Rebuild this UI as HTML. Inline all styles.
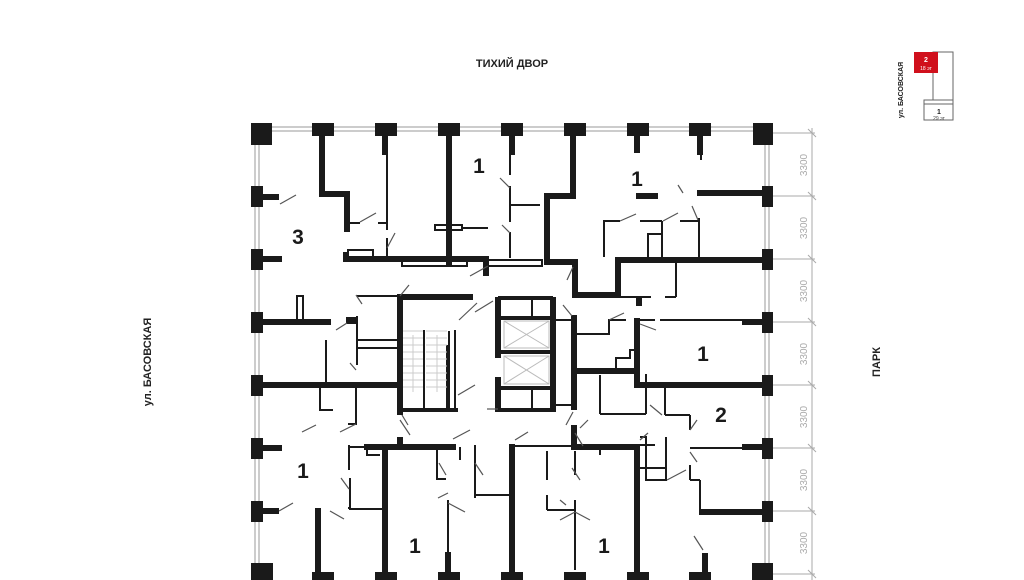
<!DOCTYPE html>
<html><head><meta charset="utf-8"><style>
html,body{margin:0;padding:0;background:#fff;}
svg{display:block;}
text{font-family:"Liberation Sans",sans-serif;}
</style></head><body>
<svg width="1024" height="580" viewBox="0 0 1024 580" xmlns="http://www.w3.org/2000/svg">
<rect width="1024" height="580" fill="#fff"/>
<text x="512" y="67" font-size="11" font-weight="bold" text-anchor="middle" fill="#222">ТИХИЙ ДВОР</text>
<text transform="translate(151,362) rotate(-90)" font-size="11" font-weight="bold" text-anchor="middle" fill="#222">ул. БАСОВСКАЯ</text>
<text transform="translate(880,362) rotate(-90)" font-size="11" font-weight="bold" text-anchor="middle" fill="#222">ПАРК</text>
<rect x="933" y="52" width="20" height="68" fill="none" stroke="#666" stroke-width="1"/>
<rect x="924" y="100" width="29" height="20" fill="#fff" stroke="#666" stroke-width="1"/>
<line x1="924" y1="104" x2="953" y2="104" stroke="#666" stroke-width="1"/>
<rect x="914" y="52" width="24" height="21" fill="#d0101c"/>
<text x="926" y="62" font-size="7" font-weight="bold" fill="#fff" text-anchor="middle">2</text>
<text x="926" y="70" font-size="5" fill="#fff" text-anchor="middle">18 эт</text>
<text x="939" y="114" font-size="7" font-weight="bold" fill="#222" text-anchor="middle">1</text>
<text x="939" y="120" font-size="5" fill="#444" text-anchor="middle">29 эт</text>
<text transform="translate(903,90) rotate(-90)" font-size="7" font-weight="bold" text-anchor="middle" fill="#222">ул. БАСОВСКАЯ</text>
<g stroke="#aaa" stroke-width="1" fill="none">
<line x1="812" y1="128" x2="812" y2="580"/>
<line x1="773" y1="133" x2="815" y2="133"/><line x1="773" y1="196" x2="815" y2="196"/>
<line x1="773" y1="259" x2="815" y2="259"/><line x1="773" y1="322" x2="815" y2="322"/>
<line x1="773" y1="385" x2="815" y2="385"/><line x1="773" y1="448" x2="815" y2="448"/>
<line x1="773" y1="511" x2="815" y2="511"/><line x1="773" y1="574" x2="815" y2="574"/>
<line x1="808" y1="129" x2="816" y2="137"/><line x1="808" y1="192" x2="816" y2="200"/><line x1="808" y1="255" x2="816" y2="263"/><line x1="808" y1="318" x2="816" y2="326"/><line x1="808" y1="381" x2="816" y2="389"/><line x1="808" y1="444" x2="816" y2="452"/><line x1="808" y1="507" x2="816" y2="515"/><line x1="808" y1="570" x2="816" y2="578"/>
</g>
<g font-size="10" fill="#aaa" text-anchor="middle">
<text transform="translate(807,165) rotate(-90)">3300</text>
<text transform="translate(807,228) rotate(-90)">3300</text>
<text transform="translate(807,291) rotate(-90)">3300</text>
<text transform="translate(807,354) rotate(-90)">3300</text>
<text transform="translate(807,417) rotate(-90)">3300</text>
<text transform="translate(807,480) rotate(-90)">3300</text>
<text transform="translate(807,543) rotate(-90)">3300</text>
</g>
<g fill="none" stroke="#999" stroke-width="1">
<rect x="255" y="127" width="514" height="460"/>
<rect x="259" y="131" width="506" height="460"/>
</g>
<g fill="#1a1a1a">
<rect x="251" y="123" width="21" height="22"/>
<rect x="753" y="123" width="20" height="22"/>
<rect x="312" y="123" width="22" height="13"/><rect x="375" y="123" width="22" height="13"/>
<rect x="438" y="123" width="22" height="13"/><rect x="501" y="123" width="22" height="13"/>
<rect x="564" y="123" width="22" height="13"/><rect x="627" y="123" width="22" height="13"/>
<rect x="689" y="123" width="22" height="13"/>
<rect x="251" y="186" width="12" height="21"/><rect x="251" y="249" width="12" height="21"/>
<rect x="251" y="312" width="12" height="21"/><rect x="251" y="375" width="12" height="21"/>
<rect x="251" y="438" width="12" height="21"/><rect x="251" y="501" width="12" height="21"/>
<rect x="251" y="563" width="22" height="20"/>
<rect x="762" y="186" width="11" height="21"/><rect x="762" y="249" width="11" height="21"/>
<rect x="762" y="312" width="11" height="21"/><rect x="762" y="375" width="11" height="21"/>
<rect x="762" y="438" width="11" height="21"/><rect x="762" y="501" width="11" height="21"/>
<rect x="752" y="563" width="21" height="20"/>
<rect x="312" y="572" width="22" height="10"/><rect x="375" y="572" width="22" height="10"/>
<rect x="438" y="572" width="22" height="10"/><rect x="501" y="572" width="22" height="10"/>
<rect x="564" y="572" width="22" height="10"/><rect x="627" y="572" width="22" height="10"/>
<rect x="689" y="572" width="22" height="10"/>
</g>
<g stroke="#1a1a1a" stroke-width="6" fill="none" stroke-linecap="square">
<polyline points="322,136 322,194 347,194 347,229"/>
<line x1="385" y1="136" x2="385" y2="152"/>
<line x1="449" y1="136" x2="449" y2="263"/>
<line x1="512" y1="136" x2="512" y2="152"/>
<line x1="637" y1="136" x2="637" y2="150"/>
<line x1="700" y1="136" x2="700" y2="152"/>
<line x1="262" y1="197" x2="276" y2="197"/>
<line x1="262" y1="259" x2="279" y2="259"/>
<line x1="262" y1="322" x2="328" y2="322"/>
<line x1="262" y1="385" x2="400" y2="385"/>
<line x1="262" y1="448" x2="279" y2="448"/>
<line x1="262" y1="511" x2="276" y2="511"/>
<polyline points="573,136 573,196 547,196 547,262 575,262 575,295 618,295 618,260 762,260"/>
<line x1="700" y1="193" x2="762" y2="193"/>
<line x1="639" y1="196" x2="655" y2="196"/>
<polyline points="346,255 346,259 486,259 486,273"/>
<line x1="400" y1="298" x2="400" y2="412"/>
<line x1="400" y1="297" x2="470" y2="297"/>
<line x1="574" y1="318" x2="574" y2="407"/>
<line x1="575" y1="371" x2="637" y2="371"/>
<line x1="637" y1="321" x2="637" y2="385"/>
<line x1="637" y1="385" x2="762" y2="385"/>
<line x1="745" y1="322" x2="762" y2="322"/>
<line x1="745" y1="447" x2="762" y2="447"/>
<line x1="702" y1="512" x2="762" y2="512"/>
<polyline points="574,428 574,447 637,447 637,575"/>
<line x1="400" y1="440" x2="400" y2="447"/>
<line x1="367" y1="447" x2="453" y2="447"/>
<line x1="385" y1="447" x2="385" y2="575"/>
<line x1="318" y1="511" x2="318" y2="575"/>
<line x1="512" y1="447" x2="512" y2="575"/>
<line x1="448" y1="555" x2="448" y2="575"/>
<line x1="705" y1="556" x2="705" y2="575"/>
<line x1="639" y1="300" x2="639" y2="303"/>
<line x1="498" y1="300" x2="498" y2="355"/>
<line x1="498" y1="380" x2="498" y2="409"/>
<line x1="553" y1="300" x2="553" y2="409"/>
</g>
<g stroke="#1a1a1a" stroke-width="4" fill="none">
<line x1="400" y1="410" x2="458" y2="410"/>
<line x1="498" y1="410" x2="553" y2="410"/>
<line x1="498" y1="298" x2="553" y2="298"/>
<line x1="498" y1="318" x2="553" y2="318"/>
<line x1="498" y1="352" x2="553" y2="352"/>
<line x1="498" y1="388" x2="553" y2="388"/>
<line x1="448" y1="345" x2="448" y2="410"/>
</g>
<g stroke="#1a1a1a" stroke-width="2" fill="none">
<line x1="387" y1="150" x2="387" y2="230"/>
<line x1="510" y1="152" x2="510" y2="175"/>
<line x1="510" y1="186" x2="510" y2="222"/>
<line x1="510" y1="205" x2="540" y2="205"/>
<line x1="510" y1="232" x2="510" y2="258"/>
<line x1="387" y1="238" x2="387" y2="258"/>
<line x1="348" y1="223" x2="360" y2="223"/>
<line x1="378" y1="223" x2="387" y2="223"/>
<rect x="348" y="250" width="25" height="7"/>
<rect x="402" y="260" width="65" height="6"/>
<rect x="486" y="260" width="56" height="6"/>
<rect x="435" y="225" width="27" height="5"/>
<line x1="462" y1="228" x2="488" y2="228"/>
<rect x="297" y="296" width="6" height="25"/>
<line x1="357" y1="296" x2="400" y2="296"/>
<line x1="357" y1="316" x2="357" y2="365"/>
<line x1="357" y1="340" x2="398" y2="340"/>
<line x1="357" y1="348" x2="398" y2="348"/>
<rect x="347" y="318" width="8" height="5" fill="#1a1a1a"/>
<line x1="326" y1="340" x2="326" y2="384"/>
<line x1="356" y1="384" x2="356" y2="425"/>
<polyline points="320,386 320,410 333,410"/>
<line x1="348" y1="424" x2="356" y2="424"/>
<line x1="424" y1="330" x2="424" y2="409"/>
<line x1="449" y1="331" x2="449" y2="409"/>
<line x1="455" y1="330" x2="455" y2="409"/>
<line x1="532" y1="300" x2="532" y2="316"/>
<line x1="532" y1="390" x2="532" y2="408"/>
<line x1="555" y1="320" x2="573" y2="320"/>
<line x1="555" y1="405" x2="573" y2="405"/>
<polyline points="576,334 609,334 609,320 626,320"/>
<line x1="637" y1="320" x2="655" y2="320"/>
<polyline points="576,370 616,370 616,358 630,358 630,350 637,350"/>
<line x1="600" y1="375" x2="600" y2="414"/>
<line x1="600" y1="414" x2="646" y2="414"/>
<line x1="646" y1="414" x2="646" y2="374"/>
<line x1="665" y1="386" x2="665" y2="415"/>
<line x1="665" y1="415" x2="690" y2="415"/>
<line x1="690" y1="415" x2="690" y2="430"/>
<line x1="690" y1="448" x2="745" y2="448"/>
<line x1="690" y1="465" x2="690" y2="480"/>
<line x1="690" y1="480" x2="700" y2="480"/>
<line x1="700" y1="480" x2="700" y2="510"/>
<polyline points="640,437 646,437 646,480 666,480 666,437"/>
<line x1="640" y1="468" x2="666" y2="468"/>
<line x1="660" y1="320" x2="745" y2="320"/>
<polyline points="604,257 604,221 620,221"/>
<line x1="640" y1="221" x2="662" y2="221"/>
<line x1="680" y1="221" x2="698" y2="221"/>
<line x1="662" y1="221" x2="662" y2="258"/>
<polyline points="648,258 648,234 662,234"/>
<line x1="699" y1="218" x2="699" y2="258"/>
<line x1="676" y1="262" x2="676" y2="297"/>
<line x1="620" y1="297" x2="651" y2="297"/>
<line x1="665" y1="297" x2="676" y2="297"/>
<line x1="701" y1="140" x2="701" y2="160"/>
<line x1="349" y1="445" x2="349" y2="470"/>
<polyline points="350,478 350,508 348,508"/>
<polyline points="350,447 367,447 367,455 380,455"/>
<line x1="349" y1="509" x2="383" y2="509"/>
<line x1="460" y1="447" x2="460" y2="460"/>
<polyline points="437,449 437,479 446,479"/>
<line x1="475" y1="445" x2="475" y2="498"/>
<line x1="475" y1="495" x2="510" y2="495"/>
<line x1="448" y1="500" x2="448" y2="555"/>
<line x1="515" y1="446" x2="575" y2="446"/>
<line x1="547" y1="451" x2="547" y2="480"/>
<line x1="575" y1="451" x2="575" y2="475"/>
<line x1="547" y1="495" x2="547" y2="510"/>
<line x1="547" y1="510" x2="575" y2="510"/>
<line x1="575" y1="500" x2="575" y2="570"/>
<line x1="640" y1="445" x2="655" y2="445"/>
<line x1="600" y1="447" x2="600" y2="455"/>
</g>
<g stroke="#bbb" stroke-width="1" fill="none">
<rect x="504" y="321" width="45" height="27"/>
<line x1="504" y1="321" x2="549" y2="348"/><line x1="549" y1="321" x2="504" y2="348"/>
<rect x="504" y="356" width="45" height="28"/>
<line x1="504" y1="356" x2="549" y2="384"/><line x1="549" y1="356" x2="504" y2="384"/>
</g>
<g stroke="#ccc" stroke-width="1">
<line x1="403" y1="331" x2="423" y2="331"/><line x1="403" y1="338" x2="423" y2="338"/><line x1="403" y1="345" x2="423" y2="345"/>
<line x1="403" y1="352" x2="423" y2="352"/><line x1="403" y1="359" x2="423" y2="359"/><line x1="403" y1="366" x2="423" y2="366"/>
<line x1="403" y1="373" x2="423" y2="373"/><line x1="403" y1="380" x2="423" y2="380"/><line x1="403" y1="387" x2="423" y2="387"/>
<line x1="426" y1="331" x2="447" y2="331"/><line x1="426" y1="338" x2="447" y2="338"/><line x1="426" y1="345" x2="447" y2="345"/>
<line x1="426" y1="352" x2="447" y2="352"/><line x1="426" y1="359" x2="447" y2="359"/><line x1="426" y1="366" x2="447" y2="366"/>
<line x1="426" y1="373" x2="447" y2="373"/><line x1="426" y1="380" x2="447" y2="380"/><line x1="426" y1="387" x2="447" y2="387"/>
<line x1="413" y1="335" x2="413" y2="392"/><line x1="437" y1="335" x2="437" y2="392"/>
</g>
<g stroke="#555" stroke-width="1.2">
<line x1="296" y1="195" x2="280" y2="204"/>
<line x1="360" y1="222" x2="376" y2="213"/>
<line x1="387" y1="248" x2="395" y2="233"/>
<line x1="510" y1="188" x2="500" y2="178"/>
<line x1="510" y1="233" x2="502" y2="225"/>
<line x1="470" y1="276" x2="488" y2="266"/>
<line x1="400" y1="296" x2="409" y2="285"/>
<line x1="620" y1="221" x2="636" y2="214"/>
<line x1="663" y1="221" x2="678" y2="213"/>
<line x1="698" y1="220" x2="692" y2="206"/>
<line x1="683" y1="193" x2="678" y2="185"/>
<line x1="573" y1="267" x2="567" y2="280"/>
<line x1="336" y1="330" x2="347" y2="323"/>
<line x1="356" y1="370" x2="350" y2="363"/>
<line x1="356" y1="295" x2="362" y2="304"/>
<line x1="459" y1="320" x2="477" y2="303"/>
<line x1="475" y1="312" x2="493" y2="301"/>
<line x1="458" y1="395" x2="475" y2="385"/>
<line x1="487" y1="409" x2="498" y2="409"/>
<line x1="563" y1="305" x2="572" y2="316"/>
<line x1="566" y1="425" x2="573" y2="412"/>
<line x1="402" y1="415" x2="408" y2="425"/>
<line x1="340" y1="432" x2="356" y2="424"/>
<line x1="609" y1="320" x2="624" y2="313"/>
<line x1="640" y1="324" x2="656" y2="330"/>
<line x1="650" y1="405" x2="662" y2="415"/>
<line x1="690" y1="430" x2="697" y2="420"/>
<line x1="690" y1="452" x2="697" y2="462"/>
<line x1="667" y1="480" x2="686" y2="470"/>
<line x1="694" y1="536" x2="703" y2="550"/>
<line x1="580" y1="428" x2="588" y2="420"/>
<line x1="575" y1="433" x2="583" y2="446"/>
<line x1="640" y1="440" x2="648" y2="433"/>
<line x1="302" y1="432" x2="316" y2="425"/>
<line x1="279" y1="511" x2="293" y2="503"/>
<line x1="341" y1="478" x2="349" y2="489"/>
<line x1="330" y1="511" x2="344" y2="519"/>
<line x1="400" y1="420" x2="410" y2="435"/>
<line x1="453" y1="439" x2="470" y2="430"/>
<line x1="439" y1="463" x2="446" y2="475"/>
<line x1="438" y1="498" x2="448" y2="493"/>
<line x1="448" y1="503" x2="465" y2="512"/>
<line x1="475" y1="463" x2="483" y2="475"/>
<line x1="515" y1="440" x2="528" y2="432"/>
<line x1="572" y1="468" x2="580" y2="480"/>
<line x1="560" y1="520" x2="575" y2="512"/>
<line x1="575" y1="512" x2="590" y2="520"/>
<line x1="560" y1="500" x2="566" y2="505"/>
</g>
<g font-size="21" font-weight="bold" fill="#1a1a1a" text-anchor="middle">
<text x="298" y="244">3</text>
<text x="479" y="173">1</text>
<text x="637" y="186">1</text>
<text x="703" y="361">1</text>
<text x="721" y="422">2</text>
<text x="303" y="478">1</text>
<text x="415" y="553">1</text>
<text x="604" y="553">1</text>
</g>
</svg>
</body></html>
